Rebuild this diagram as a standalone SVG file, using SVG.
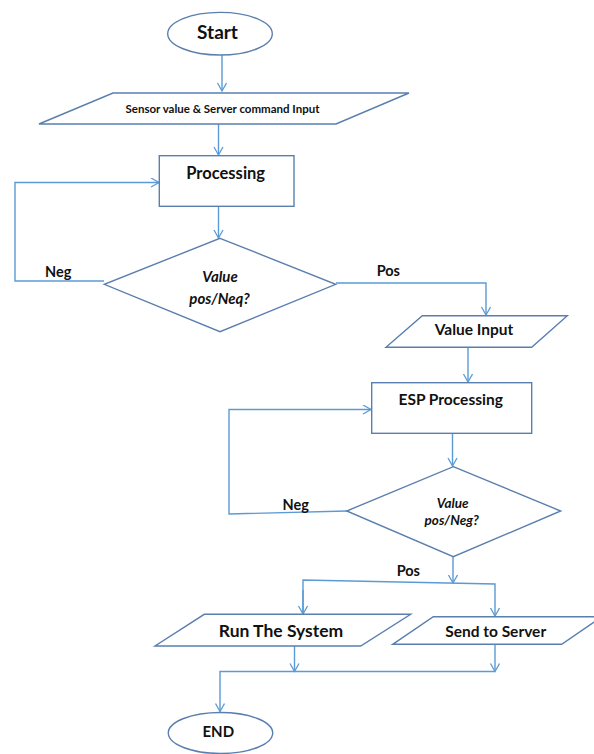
<svg xmlns="http://www.w3.org/2000/svg" width="594" height="754" viewBox="0 0 594 754">
<defs>
<marker id="arr" markerWidth="12" markerHeight="12" refX="9" refY="5" orient="auto" markerUnits="userSpaceOnUse">
<path d="M1,0.5 L9,5 L1,9.5" fill="none" stroke="#5B9BD5" stroke-width="1.3"/>
</marker>
</defs>
<style>
.shape{fill:#ffffff;stroke:#5A7FAE;stroke-width:1.4}
.conn{fill:none;stroke:#5B9BD5;stroke-width:1.4}
.t{font-family:"Lato","Open Sans","Liberation Sans",sans-serif;font-weight:bold;fill:#111111;text-anchor:middle}
.ti{font-family:"Lato","Open Sans","Liberation Sans",sans-serif;font-weight:bold;font-style:italic;fill:#111111;text-anchor:middle}
</style>
<rect width="594" height="754" fill="#ffffff"/>
<g id="connectors">
<path class="conn" d="M222,55 L222,91" marker-end="url(#arr)"/>
<path class="conn" d="M218.5,124 L218.5,155" marker-end="url(#arr)"/>
<path class="conn" d="M218.5,206 L218.5,238" marker-end="url(#arr)"/>
<path class="conn" d="M104,281 L15,281 L15,182.5 L159,182.5" marker-end="url(#arr)"/>
<path class="conn" d="M336,283 L486,283 L486,315" marker-end="url(#arr)"/>
<path class="conn" d="M468,347 L468,382" marker-end="url(#arr)"/>
<path class="conn" d="M347,511 L229,514 L229,409.5 L371,409.5" marker-end="url(#arr)"/>
<path class="conn" d="M452.5,433 L452.5,466" marker-end="url(#arr)"/>
<path class="conn" d="M453,557 L453,583" marker-end="url(#arr)"/>
<path class="conn" d="M303,614 L303,580 L495,584 L495,616" marker-end="url(#arr)"/>
<path class="conn" d="M303,590 L303,614" marker-end="url(#arr)"/>
<path class="conn" d="M294.5,646 L294.5,671.5" marker-end="url(#arr)"/>
<path class="conn" d="M495,644 L495,671.5" marker-end="url(#arr)"/>
<path class="conn" d="M495,671.5 L220,671.5 L220,711.5" marker-end="url(#arr)"/>
</g>
<g id="start">
<ellipse class="shape" cx="220" cy="33.7" rx="52.3" ry="21.3"/>
<text class="t" x="217.5" y="39" font-size="19">Start</text>
</g>
<g id="input1">
<polygon class="shape" points="113,93 409,93 336,124 39,124"/>
<text class="t" x="222.5" y="113" font-size="11.5">Sensor value &amp; Server command Input</text>
</g>
<g id="processing">
<rect class="shape" x="159.3" y="155.7" width="134.7" height="50.6"/>
<text class="t" x="225.7" y="178.5" font-size="16.5">Processing</text>
</g>
<g id="decision1">
<polygon class="shape" points="220,238.3 335.7,284.3 220,331.7 104.3,284.3"/>
<text class="ti" x="220" y="282" font-size="15">Value</text>
<text class="ti" x="219.5" y="303.5" font-size="15">pos/Neq?</text>
</g>
<g id="labels1">
<text class="t" x="58.3" y="276.5" font-size="14.5">Neg</text>
<text class="t" x="388.3" y="275.5" font-size="14.5">Pos</text>
</g>
<g id="valueinput">
<polygon class="shape" points="422.3,315.7 567.3,315.7 531.7,347.3 386,347.3"/>
<text class="t" x="474" y="335" font-size="15.5">Value Input</text>
</g>
<g id="espprocessing">
<rect class="shape" x="371.7" y="382.7" width="160" height="50.6"/>
<text class="t" x="450.7" y="405" font-size="15.5">ESP Processing</text>
</g>
<g id="decision2">
<polygon class="shape" points="453.3,466.7 560.7,511 453.3,556.7 346.7,511"/>
<text class="ti" x="452.7" y="507.5" font-size="13.5">Value</text>
<text class="ti" x="451.7" y="525" font-size="13.5">pos/Neg?</text>
</g>
<g id="labels2">
<text class="t" x="295.7" y="509.5" font-size="14.5">Neg</text>
<text class="t" x="408.3" y="576" font-size="14.5">Pos</text>
</g>
<g id="runsystem">
<polygon class="shape" points="204.3,614.3 410.7,614.3 360.7,646 155,646"/>
<text class="t" x="281" y="636.5" font-size="17.5">Run The System</text>
</g>
<g id="sendserver">
<polygon class="shape" points="433.3,616.7 602,616.7 561.7,644.3 392.7,644.3"/>
<text class="t" x="495.7" y="637.2" font-size="15.5">Send to Server</text>
</g>
<g id="end">
<ellipse class="shape" cx="220.5" cy="733" rx="52.2" ry="20.5"/>
<text class="t" x="218.3" y="737.3" font-size="15">END</text>
</g>
</svg>
